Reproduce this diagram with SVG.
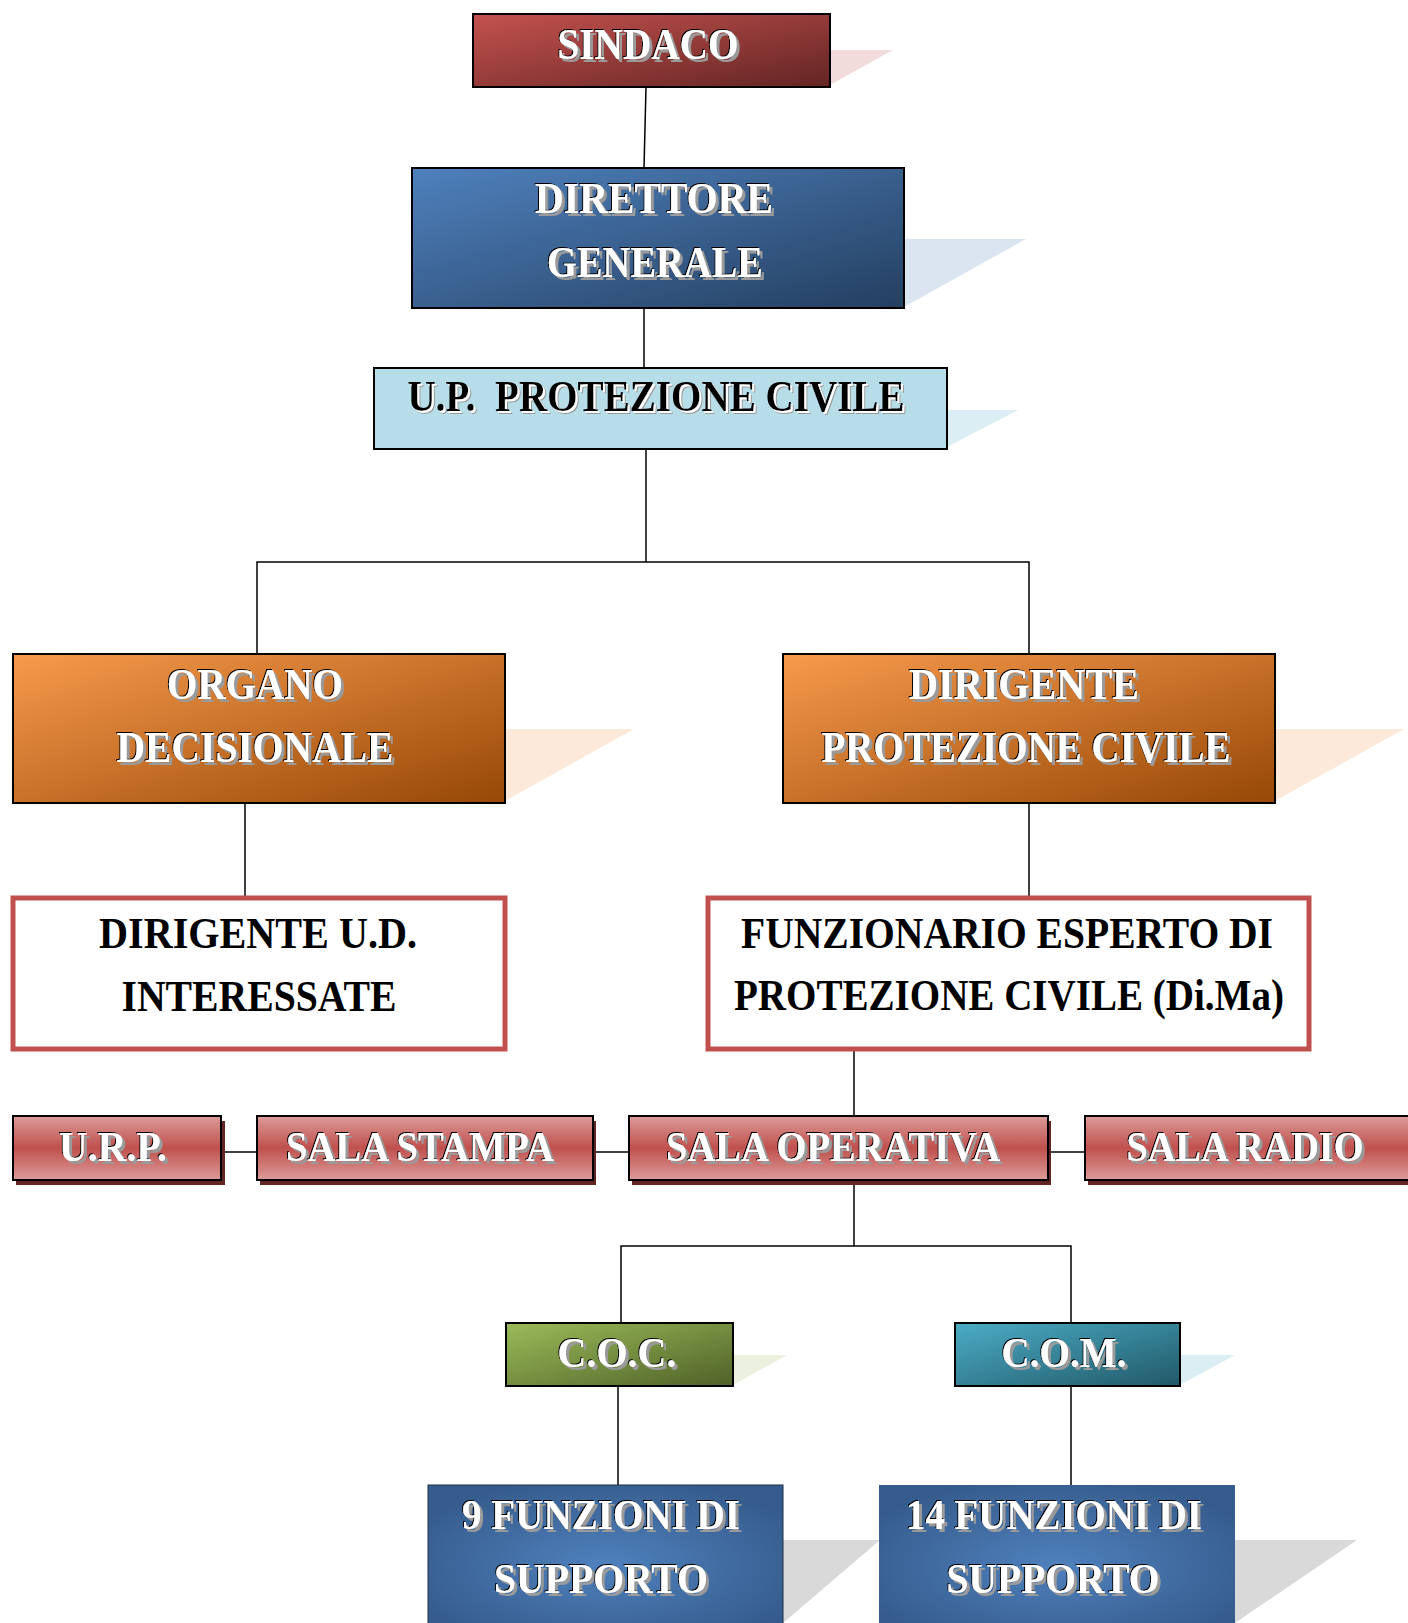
<svg xmlns="http://www.w3.org/2000/svg" width="1408" height="1623" viewBox="0 0 1408 1623">
<defs>
<linearGradient id="gRed" x1="0" y1="0" x2="1" y2="1"><stop offset="0" stop-color="#c4524f"/><stop offset="1" stop-color="#632523"/></linearGradient>
<linearGradient id="gBlue" x1="0" y1="0" x2="1" y2="1"><stop offset="0" stop-color="#4f81bd"/><stop offset="1" stop-color="#243f60"/></linearGradient>
<linearGradient id="gOrange" x1="0" y1="0" x2="1" y2="1"><stop offset="0" stop-color="#f79a4c"/><stop offset="1" stop-color="#974806"/></linearGradient>
<linearGradient id="gGreen" x1="0" y1="0" x2="1" y2="1"><stop offset="0" stop-color="#9bbb59"/><stop offset="1" stop-color="#4f6228"/></linearGradient>
<linearGradient id="gTeal" x1="0" y1="0" x2="1" y2="1"><stop offset="0" stop-color="#4bacc6"/><stop offset="1" stop-color="#215968"/></linearGradient>
<linearGradient id="gSala" x1="0" y1="0" x2="0" y2="1"><stop offset="0" stop-color="#dc9c9a"/><stop offset="0.5" stop-color="#c0504d"/><stop offset="1" stop-color="#dc9c9a"/></linearGradient>
<radialGradient id="gRad" cx="0.5" cy="0.55" r="0.6"><stop offset="0" stop-color="#4f81bd"/><stop offset="1" stop-color="#365c8d"/></radialGradient>
<filter id="emb" x="-10%" y="-30%" width="120%" height="160%">
<feOffset in="SourceAlpha" dx="3" dy="3" result="o1"/>
<feFlood flood-color="#9a9a9a"/>
<feComposite in2="o1" operator="in" result="grey"/>
<feOffset in="SourceAlpha" dx="-1.5" dy="-1" result="o2"/>
<feFlood flood-color="#000"/>
<feComposite in2="o2" operator="in" result="blk"/>
<feMerge><feMergeNode in="grey"/><feMergeNode in="blk"/><feMergeNode in="SourceGraphic"/></feMerge>
</filter>
<filter id="emb2" x="-10%" y="-30%" width="120%" height="160%">
<feOffset in="SourceAlpha" dx="3" dy="3" result="o1"/>
<feFlood flood-color="#9a9a9a"/>
<feComposite in2="o1" operator="in" result="grey"/>
<feOffset in="SourceAlpha" dx="1.5" dy="1.5" result="o2"/>
<feFlood flood-color="#fff"/>
<feComposite in2="o2" operator="in" result="wht"/>
<feMerge><feMergeNode in="grey"/><feMergeNode in="wht"/><feMergeNode in="SourceGraphic"/></feMerge>
</filter>
</defs>
<style>
.box{stroke:#000;stroke-width:2}
.t{font-family:"Liberation Serif","Times New Roman",serif;font-weight:bold;font-size:44px;text-anchor:middle;fill:#fff;filter:url(#emb)}
.tb{font-family:"Liberation Serif","Times New Roman",serif;font-weight:bold;font-size:44px;text-anchor:middle;fill:#000;filter:url(#emb2)}
.tp{font-family:"Liberation Serif","Times New Roman",serif;font-weight:bold;font-size:44px;text-anchor:middle;fill:#000}
.ts{font-size:42px}
.rbox{fill:#fff;stroke:#c0504d;stroke-width:5}
.sala{fill:url(#gSala);stroke:#000;stroke-width:2}
.sh{fill:#632523}
.conn{stroke:#000;stroke-width:1.5;fill:none}
</style>
<rect width="1408" height="1623" fill="#fff"/>
<g id="connectors">
<line class="conn" x1="646" y1="87" x2="644" y2="168"/>
<line class="conn" x1="644" y1="308" x2="644" y2="368"/>
<polyline class="conn" points="646,449 646,562"/>
<polyline class="conn" points="257,654 257,562 1029,562 1029,654"/>
<line class="conn" x1="245" y1="803" x2="245" y2="898"/>
<line class="conn" x1="1029" y1="803" x2="1029" y2="898"/>
<line class="conn" x1="854" y1="1049" x2="854" y2="1116"/>
<line class="conn" x1="221" y1="1152" x2="257" y2="1152"/>
<line class="conn" x1="593" y1="1152" x2="629" y2="1152"/>
<line class="conn" x1="1048" y1="1152" x2="1085" y2="1152"/>
<line class="conn" x1="854" y1="1180" x2="854" y2="1246"/>
<polyline class="conn" points="621,1323 621,1246 1071,1246 1071,1323"/>
<line class="conn" x1="618" y1="1386" x2="618" y2="1485"/>
<line class="conn" x1="1071" y1="1386" x2="1071" y2="1485"/>
</g>
<g id="sindaco">
<polygon points="830,50 893,50 830,85" fill="#f2dcdb"/>
<rect class="box" x="473" y="14" width="357" height="73" fill="url(#gRed)"/>
<text class="t" x="648" y="59" textLength="181" lengthAdjust="spacingAndGlyphs">SINDACO</text>
</g>
<g id="direttore">
<polygon points="904,239 1026,239 904,307" fill="#dbe5f1"/>
<rect class="box" x="412" y="168" width="492" height="140" fill="url(#gBlue)"/>
<text class="t" x="654" y="213" textLength="238" lengthAdjust="spacingAndGlyphs">DIRETTORE</text>
<text class="t" x="655" y="277" textLength="216" lengthAdjust="spacingAndGlyphs">GENERALE</text>
</g>
<g id="up">
<polygon points="947,410 1018,410 947,447" fill="#daeef3"/>
<rect class="box" x="374" y="368" width="573" height="81" fill="#b7dde8"/>
<text class="tb" x="656" y="411" textLength="497" lengthAdjust="spacingAndGlyphs" xml:space="preserve">U.P.  PROTEZIONE CIVILE</text>
</g>
<g id="organo">
<polygon points="505,729 634,729 505,801" fill="#fde9d9"/>
<rect class="box" x="13" y="654" width="492" height="149" fill="url(#gOrange)"/>
<text class="t" x="255" y="699" textLength="176" lengthAdjust="spacingAndGlyphs">ORGANO</text>
<text class="t" x="255" y="762" textLength="277" lengthAdjust="spacingAndGlyphs">DECISIONALE</text>
</g>
<g id="dirigente">
<polygon points="1275,729 1404,729 1275,801" fill="#fde9d9"/>
<rect class="box" x="783" y="654" width="492" height="149" fill="url(#gOrange)"/>
<text class="t" x="1024" y="699" textLength="230" lengthAdjust="spacingAndGlyphs">DIRIGENTE</text>
<text class="t" x="1026" y="762" textLength="409" lengthAdjust="spacingAndGlyphs">PROTEZIONE CIVILE</text>
</g>
<g id="dirigente-ud">
<rect class="rbox" x="13" y="898" width="492" height="151"/>
<text class="tp" x="258" y="948" textLength="318" lengthAdjust="spacingAndGlyphs">DIRIGENTE U.D.</text>
<text class="tp" x="259" y="1011" textLength="275" lengthAdjust="spacingAndGlyphs">INTERESSATE</text>
</g>
<g id="funzionario">
<rect class="rbox" x="708" y="898" width="601" height="151"/>
<text class="tp" x="1007" y="948" textLength="532" lengthAdjust="spacingAndGlyphs">FUNZIONARIO ESPERTO DI</text>
<text class="tp" x="1009" y="1010" textLength="550" lengthAdjust="spacingAndGlyphs">PROTEZIONE CIVILE (Di.Ma)</text>
</g>
<g id="urp">
<rect class="sh" x="16" y="1121" width="209" height="64"/>
<rect class="sala" x="13" y="1116" width="208" height="64"/>
<text class="t ts" x="113" y="1161" textLength="108" lengthAdjust="spacingAndGlyphs">U.R.P.</text>
</g>
<g id="sala-stampa">
<rect class="sh" x="260" y="1121" width="336" height="64"/>
<rect class="sala" x="257" y="1116" width="336" height="64"/>
<text class="t ts" x="420" y="1161" textLength="268" lengthAdjust="spacingAndGlyphs">SALA STAMPA</text>
</g>
<g id="sala-operativa">
<rect class="sh" x="632" y="1121" width="419" height="64"/>
<rect class="sala" x="629" y="1116" width="419" height="64"/>
<text class="t ts" x="833" y="1161" textLength="334" lengthAdjust="spacingAndGlyphs">SALA OPERATIVA</text>
</g>
<g id="sala-radio">
<rect class="sh" x="1088" y="1121" width="330" height="64"/>
<rect class="sala" x="1085" y="1116" width="330" height="64"/>
<text class="t ts" x="1245" y="1161" textLength="237" lengthAdjust="spacingAndGlyphs">SALA RADIO</text>
</g>
<g id="coc">
<polygon points="733,1355 787,1355 733,1385" fill="#ebf1de"/>
<rect class="box" x="506" y="1323" width="227" height="63" fill="url(#gGreen)"/>
<text class="t ts" x="617" y="1367" textLength="119" lengthAdjust="spacingAndGlyphs">C.O.C.</text>
</g>
<g id="com">
<polygon points="1180,1355 1235,1355 1180,1385" fill="#daeef3"/>
<rect class="box" x="955" y="1323" width="225" height="63" fill="url(#gTeal)"/>
<text class="t ts" x="1064" y="1367" textLength="125" lengthAdjust="spacingAndGlyphs">C.O.M.</text>
</g>
<g id="funzioni-9">
<polygon points="783,1540 880,1540 783,1623" fill="#d9d9d9"/>
<rect x="428" y="1485" width="355" height="145" fill="url(#gRad)" stroke="#1f2f45" stroke-width="1"/>
<text class="t ts" x="601" y="1529" textLength="278" lengthAdjust="spacingAndGlyphs">9 FUNZIONI DI</text>
<text class="t ts" x="601" y="1593" textLength="214" lengthAdjust="spacingAndGlyphs">SUPPORTO</text>
</g>
<g id="funzioni-14">
<polygon points="1235,1540 1357,1540 1235,1623" fill="#d9d9d9"/>
<rect x="879" y="1485" width="356" height="145" fill="url(#gRad)"/>
<text class="t ts" x="1054" y="1529" textLength="296" lengthAdjust="spacingAndGlyphs">14 FUNZIONI DI</text>
<text class="t ts" x="1053" y="1593" textLength="213" lengthAdjust="spacingAndGlyphs">SUPPORTO</text>
</g>
</svg>
